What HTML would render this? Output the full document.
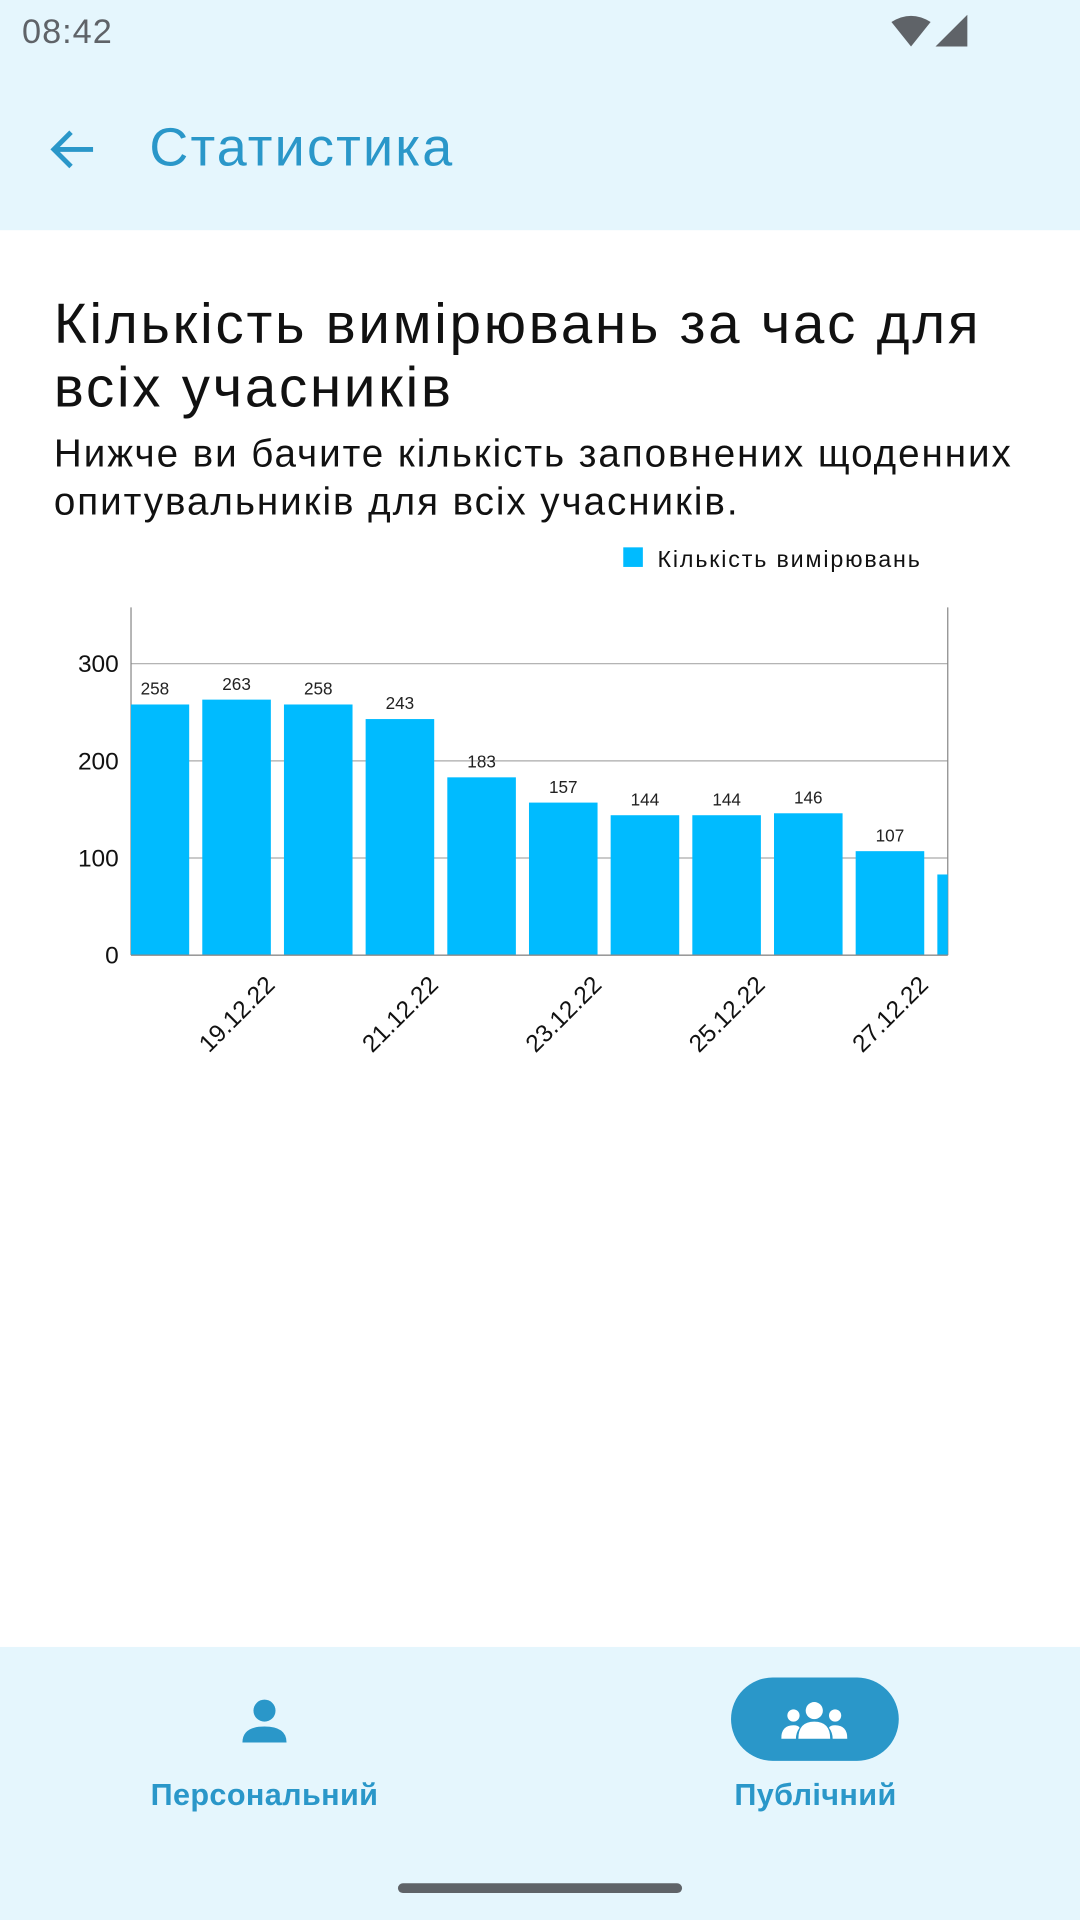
<!DOCTYPE html>
<html><head><meta charset="utf-8">
<style>
html,body{margin:0;padding:0;width:1080px;height:1920px;overflow:hidden;background:#fff;}
#root{position:absolute;left:0;top:0;width:882px;height:1568px;transform:scale(1.22449);transform-origin:0 0;font-family:"Liberation Sans","DejaVu Sans",sans-serif;}
.abs{position:absolute;}
</style></head><body>
<div id="root">
  <div class="abs" style="left:0;top:0;width:882px;height:188px;background:#e5f6fd;"></div>
  <div class="abs" style="left:18px;top:10px;font-size:28px;letter-spacing:0.8px;color:#5f6368;">08:42</div>
  <svg class="abs" style="left:726px;top:12px" width="66" height="28">
    <path d="M2 6 Q18 -4 34 6 L18 26 Z" fill="#5f6368"/>
    <path d="M38 26 L64 0 L64 26 Z" fill="#5f6368"/>
  </svg>
  <svg class="abs" style="left:40px;top:104px" width="40" height="36">
    <path d="M4 18 H36 M18 4 L4 18 L18 32" stroke="#2a97c9" stroke-width="4" fill="none"/>
  </svg>
  <div class="abs" style="left:122px;top:96px;font-size:44px;letter-spacing:1.8px;color:#2a97c9;">Статистика</div>

  <div class="abs" style="left:44px;top:238px;font-size:46px;letter-spacing:2.3px;line-height:52px;color:#111;width:800px;">Кількість вимірювань за час для всіх учасників</div>
  <div class="abs" style="left:44px;top:351px;font-size:31.5px;letter-spacing:1.6px;line-height:39px;color:#111;width:836px;">Нижче ви бачите кількість заповнених щоденних опитувальників для всіх учасників.</div>

  <svg class="abs" id="chart" style="left:0;top:430px" width="882" height="460"></svg>

  <div class="abs" style="left:0;top:1345px;width:882px;height:223px;background:#e5f6fd;"></div>
  <svg class="abs" style="left:196px;top:1386px" width="40" height="40">
    <circle cx="20" cy="11" r="9" fill="#2a97c9"/><path d="M2 37 Q2 24 20 24 Q38 24 38 37 Z" fill="#2a97c9"/>
  </svg>
  <div class="abs" style="left:100px;top:1452px;width:232px;text-align:center;font-size:25px;letter-spacing:0.3px;font-weight:bold;color:#2a97c9;">Персональний</div>
  <div class="abs" style="left:597px;top:1370px;width:137px;height:68px;border-radius:34px;background:#2a97c9;"></div>
  <svg class="abs" style="left:638px;top:1388px" width="54" height="34">
    <circle cx="27" cy="9" r="7" fill="#fff"/><circle cx="10" cy="13" r="5" fill="#fff"/><circle cx="44" cy="13" r="5" fill="#fff"/>
    <path d="M14 32 Q14 18 27 18 Q40 18 40 32 Z" fill="#fff"/><path d="M0 32 Q0 21 10 21 Q14 21 15 23 Q12 27 12 32 Z" fill="#fff"/><path d="M54 32 Q54 21 44 21 Q40 21 39 23 Q42 27 42 32 Z" fill="#fff"/>
  </svg>
  <div class="abs" style="left:550px;top:1452px;width:232px;text-align:center;font-size:25px;letter-spacing:0.3px;font-weight:bold;color:#2a97c9;">Публічний</div>
  <div class="abs" style="left:325px;top:1538px;width:232px;height:8px;border-radius:4px;background:#5f6368;"></div>
</div>
<script>
const categories=["18.12.22","19.12.22","20.12.22","21.12.22","22.12.22","23.12.22","24.12.22","25.12.22","26.12.22","27.12.22","28.12.22"];
const values=[258,263,258,243,183,157,144,144,146,107,83];
const yTicks=[0,100,200,300];
const seriesName="Кількість вимірювань";

const svg=document.getElementById('chart');
const NS='http://www.w3.org/2000/svg';
const L=107,R=774,T=66,B=350;
const yMax=358;
const slot=66.7, firstCenter=126.5, barW=56;
function y(v){return B-(v/yMax)*(B-T);}
function xc(i){return firstCenter+i*slot;}
function el(tag,attrs,parent){const e=document.createElementNS(NS,tag);for(const k in attrs)e.setAttribute(k,attrs[k]);(parent||svg).appendChild(e);return e;}

const clip=el('clipPath',{id:'pc'});el('rect',{x:L,y:T-30,width:R-L,height:B-T+30},clip);

yTicks.forEach(t=>{
  const g=el('line',{x1:L,x2:R,y1:y(t),y2:y(t),stroke:'#aaa','stroke-width':1});
  
  
  const tx=el('text',{x:97,y:y(t)+7,'text-anchor':'end','font-size':20,fill:'#111'});
  tx.textContent=t;
  
  
});
const ax1=el('line',{x1:L,x2:L,y1:T,y2:B,stroke:'#888','stroke-width':1});


const ax2=el('line',{x1:R,x2:R,y1:T,y2:B,stroke:'#888','stroke-width':1});



const bars=el('g',{'clip-path':'url(#pc)'});
values.forEach((v,i)=>{
  const r=el('rect',{x:xc(i)-barW/2,y:y(v),width:barW,height:B-y(v),fill:'#00bbff'},bars);
  
  
  const t=el('text',{x:xc(i),y:y(v)-8,'text-anchor':'middle','font-size':14,fill:'#222'},bars);
  t.textContent=v;
  
  
});
const xa=el('line',{x1:L,x2:R,y1:B,y2:B,stroke:'#888','stroke-width':1});



categories.forEach((c,i)=>{
  if(i%2!==1)return;
  const cx=xc(i), cy=398;
  if(cx>R)return;
  const t=el('text',{x:cx,y:cy+7,'text-anchor':'middle','font-size':20,fill:'#111',transform:'rotate(-45 '+cx+' '+cy+')'});
  t.textContent=c;
  
  
});

const lg=el('rect',{x:509,y:17,width:16,height:16,fill:'#00bbff'});


const lt=el('text',{x:537,y:33,'font-size':19,'letter-spacing':1.5,fill:'#111'});
lt.textContent=seriesName;


</script>
</body></html>
